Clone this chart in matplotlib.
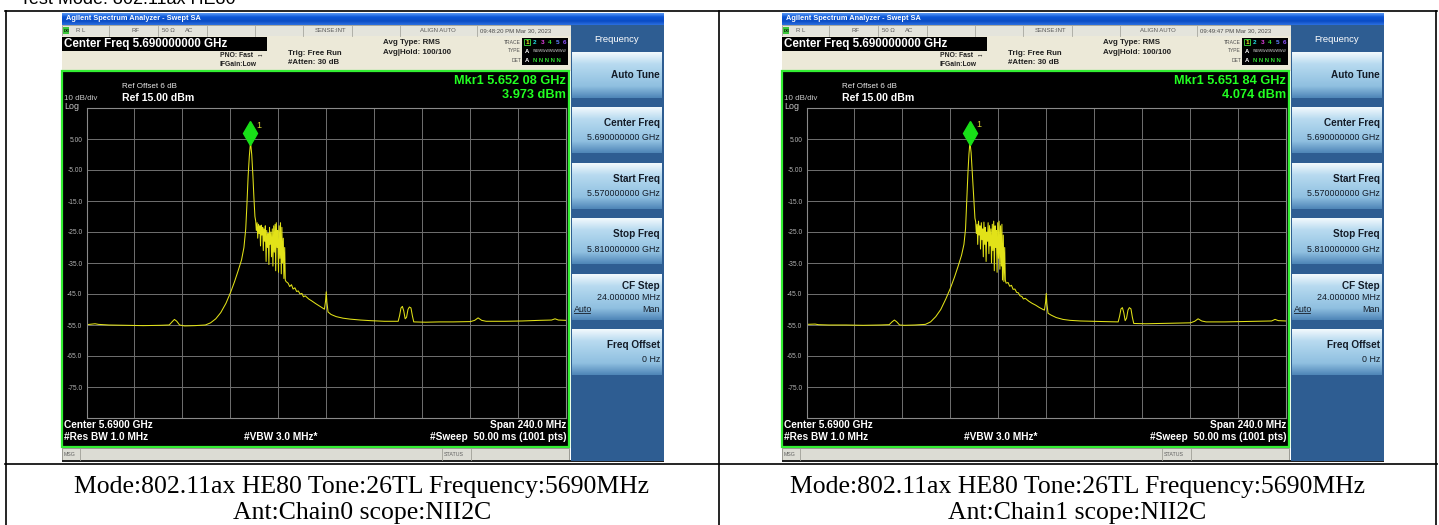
import numpy as np
import matplotlib.pyplot as plt
from matplotlib.patches import Rectangle
from matplotlib.colors import LinearSegmentedColormap
from matplotlib.transforms import offset_copy

W, H = 1439, 525
SANS = 'Liberation Sans'
SERIF = 'Liberation Serif'

# ---- trace values (GHz / dBm) ----
lower_freq = [5.5700, 5.5743, 5.5760, 5.5812, 5.5898, 5.5984, 5.6071, 5.6114, 5.6128,
              5.6140, 5.6152, 5.6166, 5.6191, 5.6243, 5.6295, 5.6321, 5.6347, 5.6372,
              5.6398, 5.6421, 5.6441, 5.6459, 5.6476, 5.6488, 5.6497, 5.6503, 5.6509,
              5.6515, 5.6521, 5.6527, 5.6533, 5.6538, 5.6543]
chain0_lower = [-54.9, -54.6, -54.8, -55.0, -55.1, -55.2, -55.1, -55.0, -54.0,
                -53.2, -53.8, -55.0, -55.3, -55.2, -55.0, -54.3, -53.0, -51.0,
                -48.0, -44.5, -41.0, -37.5, -34.0, -30.0, -24.0, -16.0, -7.0,
                -0.5, 3.97, 0.0, -7.0, -14.0, -20.0]
chain1_lower = [-54.8, -54.7, -54.9, -55.0, -55.0, -55.1, -55.0, -54.9, -54.0,
                -53.4, -54.0, -55.0, -55.1, -55.0, -54.8, -54.0, -52.3, -50.0,
                -46.5, -43.0, -39.5, -36.0, -32.5, -29.0, -24.0, -15.0, -6.0,
                0.0, 4.07, 0.5, -6.0, -13.0, -20.5]

noise_freq = [5.6547, 5.6550, 5.6554, 5.6557, 5.6561, 5.6564, 5.6568, 5.6571, 5.6575,
              5.6578, 5.6582, 5.6585, 5.6588, 5.6592, 5.6595, 5.6599, 5.6602, 5.6606,
              5.6609, 5.6613, 5.6616, 5.6619, 5.6623, 5.6626, 5.6630, 5.6633, 5.6637,
              5.6640, 5.6644, 5.6647, 5.6650, 5.6654, 5.6657, 5.6661, 5.6664, 5.6668,
              5.6671, 5.6675, 5.6678, 5.6681, 5.6685, 5.6688, 5.6692, 5.6695, 5.6699]
chain0_noise = [-21.5, -24.5, -22.0, -27.0, -22.5, -25.5, -23.0, -29.5, -22.8,
                -26.0, -23.5, -31.0, -24.0, -28.0, -23.0, -34.5, -24.5, -30.0,
                -25.5, -35.5, -23.5, -29.0, -25.0, -33.0, -24.0, -36.0, -23.0,
                -31.5, -22.5, -37.5, -22.0, -30.0, -24.5, -38.0, -23.0, -33.5,
                -22.0, -38.5, -23.5, -35.0, -27.0, -40.0, -30.0, -40.5, -41.0]
chain1_noise = [-21.8, -25.5, -22.5, -29.0, -21.5, -26.0, -23.0, -30.5, -22.0,
                -27.5, -24.0, -33.0, -21.8, -29.0, -23.5, -34.5, -25.0, -28.0,
                -22.0, -32.0, -23.0, -29.5, -24.0, -35.0, -22.5, -31.0, -21.5,
                -37.5, -23.0, -30.0, -24.5, -38.0, -22.0, -33.5, -21.5, -37.0,
                -23.0, -36.0, -22.5, -40.5, -26.0, -41.0, -30.0, -40.5, -41.5]

upper_freq = [5.6709, 5.6717, 5.6726, 5.6734, 5.6743, 5.6752, 5.6760, 5.6769, 5.6778,
              5.6786, 5.6795, 5.6812, 5.6829, 5.6847, 5.6864, 5.6881, 5.6891, 5.6897,
              5.6900, 5.6903, 5.6909, 5.6924, 5.6950, 5.6984, 5.7019, 5.7071, 5.7122,
              5.7191, 5.7260, 5.7267, 5.7274, 5.7281, 5.7288, 5.7295, 5.7302, 5.7309,
              5.7316, 5.7324, 5.7331, 5.7338, 5.7398, 5.7467, 5.7536, 5.7622, 5.7643,
              5.7660, 5.7678, 5.7700, 5.7795, 5.7881, 5.7967, 5.8028, 5.8045, 5.8062,
              5.8100]
chain0_upper = [-41.5, -42.6, -42.0, -43.4, -43.0, -44.2, -44.0, -45.0, -44.8,
                -45.9, -45.6, -46.6, -47.3, -48.1, -48.8, -49.5, -49.9, -47.0,
                -44.3, -47.5, -50.8, -51.6, -52.3, -52.8, -53.1, -53.4, -53.6,
                -53.8, -53.8, -52.0, -49.5, -49.0, -50.5, -53.0, -52.5, -50.0,
                -49.2, -49.5, -52.0, -54.0, -54.1, -54.0, -54.0, -53.9, -53.5,
                -52.7, -53.5, -53.8, -53.8, -53.7, -53.5, -53.4, -53.0, -53.4,
                -53.5]
chain1_upper = [-41.3, -42.5, -42.2, -43.5, -43.4, -44.5, -44.6, -45.6, -45.8,
                -46.6, -46.4, -47.3, -48.0, -48.6, -49.3, -49.9, -50.2, -47.5,
                -44.8, -48.0, -51.2, -51.8, -52.6, -53.2, -53.5, -53.7, -53.8,
                -53.9, -54.0, -52.2, -49.8, -49.4, -51.0, -53.6, -52.8, -50.2,
                -49.4, -49.8, -52.5, -54.5, -54.6, -54.5, -54.4, -54.3, -53.8,
                -53.0, -53.7, -54.0, -54.0, -53.9, -53.8, -53.7, -53.2, -53.6,
                -53.7]

mkr_freq = [5.65208, 5.65184]
mkr_level = [3.973, 4.074]
mkr_label = ['Mkr1 5.652 08 GHz', 'Mkr1 5.651 84 GHz']
mkr_value = ['3.973 dBm', '4.074 dBm']
timestamps = ['09:48:20 PM Mar 30, 2023', '09:49:47 PM Mar 30, 2023']
captions = [('Mode:802.11ax HE80 Tone:26TL Frequency:5690MHz', 'Ant:Chain0 scope:NII2C'),
            ('Mode:802.11ax HE80 Tone:26TL Frequency:5690MHz', 'Ant:Chain1 scope:NII2C')]

ytick_vals = [15, 5, -5, -15, -25, -35, -45, -55, -65, -75, -85]
ytick_labels = ['', '5.00', '-5.00', '-15.0', '-25.0', '-35.0', '-45.0', '-55.0',
                '-65.0', '-75.0', '']
f_start, f_stop = 5.57, 5.81

softkeys = [('Auto Tune', ''), ('Center Freq', '5.690000000 GHz'),
            ('Start Freq', '5.570000000 GHz'), ('Stop Freq', '5.810000000 GHz'),
            ('CF Step', '24.000000 MHz'), ('Freq Offset', '0 Hz')]

fig = plt.figure(figsize=(W / 100, H / 100), dpi=100)
bg = fig.add_axes([0, 0, 1, 1])
bg.axis('off')


def rect(x, y, w, h, fc, ec='none', lw=0, z=1):
    bg.add_patch(Rectangle((x, y), w, h, facecolor=fc, edgecolor=ec, linewidth=lw, zorder=z))


def grad(x0, y0, x1, y1, colors, z=1):
    cmap = LinearSegmentedColormap.from_list('g', colors)
    bg.imshow(np.linspace(0, 1, 64)[:, None], extent=(x0, x1, y1, y0), cmap=cmap,
              aspect='auto', origin='upper', zorder=z, interpolation='bilinear')


def txt(x, y, s, size, color='white', ha='left', va='center', weight='normal',
        family=SANS, z=6):
    bg.text(x, y, s, fontsize=size, color=color, ha=ha, va=va, weight=weight,
            family=[family, 'DejaVu Sans'], zorder=z)


def screen(dx, k, freq, level):
    L, R = 62 + dx, 664 + dx
    # window title bar
    grad(L, 13, R, 25, ['#5a9af5', '#0b55d6', '#0a4cc4', '#2b6fe0'])
    txt(L + 4, 19, 'Agilent Spectrum Analyzer - Swept SA', 5.3, weight='bold')
    # status row
    rect(L, 25, 509, 11, '#e4e4dc', '#9a9a90', 0.6, z=2)
    for sx in [109, 158, 207, 255, 303, 352, 400, 477]:
        bg.plot([sx + dx, sx + dx], [25.5, 35.5], color='#a8a8a0', lw=0.6, zorder=3)
    rect(L + 1, 27, 6, 7, '#3cc83c', z=3)
    txt(L + 1.5, 30.7, 'LXI', 2.6, color='black', weight='bold')
    for sx, s in [(76, 'R L'), (131, 'RF'), (162, '50 Ω'), (185, 'AC'),
                  (315, 'SENSE:INT'), (420, 'ALIGN AUTO')]:
        txt(sx + dx, 30.7, s, 4.3, color='#5a5a5a')
    txt(480 + dx, 30.7, timestamps[k], 4.3, color='#4a4a4a')
    # settings header
    rect(L, 36, 509, 35, '#ece9d8', z=2)
    rect(L, 37, 205, 14, 'black', z=3)
    txt(L + 2, 44.5, 'Center Freq 5.690000000 GHz', 8.4, weight='bold')
    txt(220 + dx, 55.5, 'PNO: Fast  ↔', 4.9, color='#202020', weight='bold')
    txt(220 + dx, 64.5, 'IFGain:Low', 4.9, color='#202020', weight='bold')
    txt(288 + dx, 53.5, 'Trig: Free Run', 5.7, color='#202020', weight='bold')
    txt(288 + dx, 63, '#Atten: 30 dB', 5.7, color='#202020', weight='bold')
    txt(383 + dx, 43, 'Avg Type: RMS', 5.7, color='#202020', weight='bold')
    txt(383 + dx, 52.5, 'Avg|Hold: 100/100', 5.7, color='#202020', weight='bold')
    for ty, s in [(42, 'TRACE'), (51, 'TYPE'), (60, 'DET')]:
        txt(521 + dx, ty, s, 3.6, color='#505050', ha='right')
    rect(522 + dx, 38, 46, 27, 'black', z=3)
    rect(524 + dx, 38.8, 6, 6.6, 'none', '#40e040', 0.6, z=4)
    for i, c in enumerate(['#f0f020', '#20e0e0', '#e040e0', '#30e030', '#6080ff', '#9050ff']):
        txt(527 + dx + i * 7.6, 42.2, str(i + 1), 4.6, color=c, ha='center', weight='bold')
    txt(527 + dx, 51.2, 'A', 4.2, ha='center', weight='bold')
    txt(533 + dx, 51.2, 'WWWWWWWWWW', 2.6, color='#d0d0d0')
    txt(527 + dx, 60.2, 'A', 4.2, ha='center', weight='bold')
    txt(533 + dx, 60.2, 'N N N N N', 4.2, color='#30e030', weight='bold')
    # graticule area
    rect(L, 71, 507, 376, 'black', '#33ee33', 1.6, z=2)
    txt(122 + dx, 86.5, 'Ref Offset 6 dB', 5.8, color='#e8e8e8')
    txt(122 + dx, 98, 'Ref 15.00 dBm', 7.6, weight='bold')
    txt(L + 2, 98.5, '10 dB/div', 5.8, color='#c8c8c8')
    txt(L + 2, 106.5, 'Log', 6.4, color='#c8c8c8')
    txt(566 + dx, 81, mkr_label[k], 9.2, color='#22ff22', ha='right', weight='bold')
    txt(566 + dx, 94.5, mkr_value[k], 9.2, color='#22ff22', ha='right', weight='bold')
    txt(L + 2, 425.5, 'Center 5.6900 GHz', 7.3, weight='bold')
    txt(566 + dx, 425.5, 'Span 240.0 MHz', 7.3, weight='bold', ha='right')
    txt(L + 2, 437.5, '#Res BW 1.0 MHz', 7.3, weight='bold')
    txt(244 + dx, 437.5, '#VBW 3.0 MHz*', 7.3, weight='bold')
    txt(566 + dx, 437.5, '#Sweep  50.00 ms (1001 pts)', 7.3, weight='bold', ha='right')
    # message bar
    rect(L, 448, 507, 12, '#dcdcd4', '#8c8c84', 0.6, z=2)
    for sx in [80, 442, 471]:
        bg.plot([sx + dx, sx + dx], [448.5, 459.5], color='#a0a098', lw=0.6, zorder=3)
    txt(L + 2, 454, 'MSG', 3.8, color='#606060')
    txt(444 + dx, 454, 'STATUS', 3.8, color='#606060')
    rect(L, 460, 602, 1.5, '#202020', z=2)
    # softkey panel
    rect(571 + dx, 25, 93, 436, '#2e5d92', z=2)
    txt(617 + dx, 39, 'Frequency', 6.8, ha='center')
    tops = [52, 107, 163, 218, 274, 329]
    for top, (lab, val) in zip(tops, softkeys):
        grad(572 + dx, top, 662 + dx, top + 46,
             ['#f2f9fd', '#b9dbf0', '#a3cde8', '#8fbfe0', '#4f86b8'], z=3)
        if not val:
            txt(660 + dx, top + 23, lab, 7.2, color='#141c28', ha='right', weight='bold')
        elif lab == 'CF Step':
            txt(660 + dx, top + 12, lab, 7.2, color='#141c28', ha='right', weight='bold')
            txt(660 + dx, top + 23, val, 6.4, color='#141c28', ha='right')
            txt(660 + dx, top + 35, 'Man', 6.4, color='#141c28', ha='right')
            txt(574 + dx, top + 35, 'Auto', 6.4, color='#141c28')
            bg.plot([574 + dx, 590 + dx], [top + 39, top + 39], color='#141c28', lw=0.6, zorder=6)
        else:
            txt(660 + dx, top + 16, lab, 7.2, color='#141c28', ha='right', weight='bold')
            txt(660 + dx, top + 31, val, 6.4, color='#141c28', ha='right')

    # spectrum trace on its own axes
    ax = fig.add_axes([(86.5 + dx) / W, 1 - 418 / H, 479.5 / W, 310 / H])
    ax.set_zorder(3)
    ax.set_facecolor('black')
    ax.set_xlim(f_start, f_stop)
    ax.set_ylim(-85, 15)
    ax.set_xticks(np.linspace(f_start, f_stop, 11))
    ax.set_yticks(ytick_vals, ytick_labels)
    ax.tick_params(axis='x', length=0, labelbottom=False)
    ax.tick_params(axis='y', length=0, pad=3, labelsize=4.8, labelcolor='#b4b4b4')
    for lbl in ax.get_yticklabels():
        lbl.set_family(SANS)
    ax.grid(True, color='#707070', lw=0.7)
    for sp in ax.spines.values():
        sp.set_color('#8a8a8a')
        sp.set_linewidth(0.8)
    ax.plot(freq, level, color='#e2e218', lw=0.75)
    tr = offset_copy(ax.transData, fig=fig, x=0, y=9, units='dots')
    ax.plot([mkr_freq[k]], [mkr_level[k]], marker='d', ms=12, color='#18e018',
            transform=tr, clip_on=False)
    tr2 = offset_copy(ax.transData, fig=fig, x=6, y=17, units='dots')
    ax.text(mkr_freq[k], mkr_level[k], '1', transform=tr2, color='#d8d830',
            fontsize=6.5, family=SANS, va='center')


chain0_freq = lower_freq + noise_freq + upper_freq
chain0_level = chain0_lower + chain0_noise + chain0_upper
chain1_freq = lower_freq[:] + noise_freq + upper_freq
chain1_freq[24:32] = [5.6496, 5.6502, 5.6508, 5.6513, 5.6518, 5.6524, 5.6530, 5.6536]
chain1_level = chain1_lower + chain1_noise + chain1_upper

screen(0, 0, chain0_freq, chain0_level)
screen(720, 1, chain1_freq, chain1_level)

# report table frame and captions (page heading is clipped by the top edge)
bg.text(20, 4, 'Test Mode: 802.11ax HE80', fontsize=13, family=SANS, va='baseline')
for x in [5.5, 719, 1436]:
    bg.plot([x, x], [11, 525], color='black', lw=1.2, zorder=7)
bg.plot([5, 1436.5], [11, 11], color='black', lw=1.2, zorder=7)
bg.plot([5, 1436.5], [464, 464], color='black', lw=1.2, zorder=7)
for cx, (l1, l2) in zip([362, 1077.5], captions):
    txt(cx, 487, l1, 18.5, color='black', ha='center', family=SERIF)
    txt(cx, 513.5, l2, 18.5, color='black', ha='center', family=SERIF)

bg.set_xlim(0, W)
bg.set_ylim(H, 0)
fig.savefig('out.png', dpi=100)
